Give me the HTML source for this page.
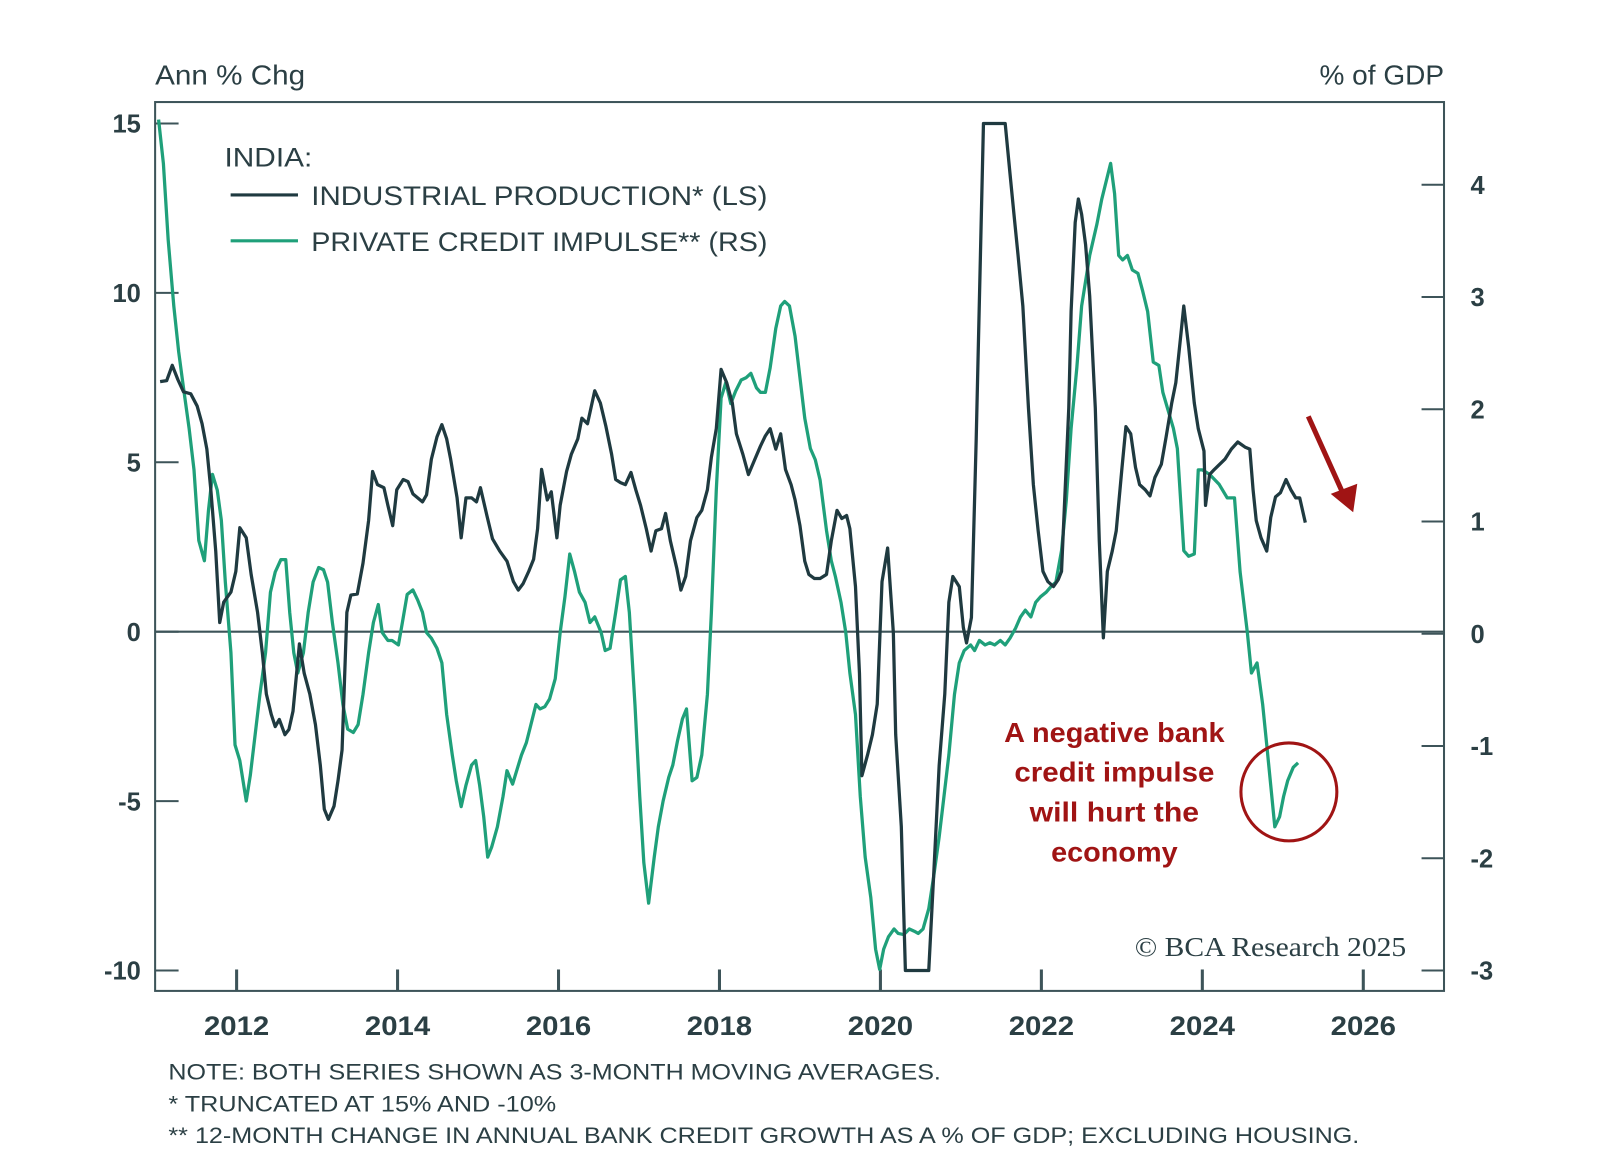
<!DOCTYPE html>
<html><head><meta charset="utf-8"><style>
body{margin:0;background:#fff;width:1600px;height:1163px;overflow:hidden;font-family:"Liberation Sans",sans-serif;}
</style></head><body>
<svg id="chart" width="1600" height="1163" xmlns="http://www.w3.org/2000/svg" font-family="Liberation Sans, sans-serif">
<g transform="scale(1.0205)">
<text x="152" y="83" font-size="27" fill="#2b3f44" textLength="147" lengthAdjust="spacingAndGlyphs">Ann % Chg</text>
<text x="1293" y="83" font-size="27" fill="#2b3f44" textLength="122" lengthAdjust="spacingAndGlyphs">% of GDP</text>
<rect x="152" y="100" width="1263" height="871" fill="none" stroke="#3d5459" stroke-width="2"/>
<g id="axes"></g>
<g id="series"></g>
<g fill="#2b3f44" font-size="26">
<text x="220" y="163" textLength="86" lengthAdjust="spacingAndGlyphs">INDIA:</text>
<line x1="226" y1="191" x2="292" y2="191" stroke="#1f3a40" stroke-width="3"/>
<text x="305" y="201" textLength="447" lengthAdjust="spacingAndGlyphs">INDUSTRIAL PRODUCTION* (LS)</text>
<line x1="226" y1="236" x2="292" y2="236" stroke="#1fa07a" stroke-width="3"/>
<text x="305" y="246" textLength="447" lengthAdjust="spacingAndGlyphs">PRIVATE CREDIT IMPULSE** (RS)</text>
</g>
<g fill="#a01414" font-size="27" font-weight="bold" text-anchor="middle">
<text x="1092" y="727" textLength="216" lengthAdjust="spacingAndGlyphs">A negative bank</text>
<text x="1092" y="766" textLength="196" lengthAdjust="spacingAndGlyphs">credit impulse</text>
<text x="1092" y="805" textLength="166" lengthAdjust="spacingAndGlyphs">will hurt the</text>
<text x="1092" y="844" textLength="124" lengthAdjust="spacingAndGlyphs">economy</text>
</g>
<ellipse cx="1263" cy="776" rx="47" ry="48" fill="none" stroke="#a01414" stroke-width="3"/>
<line x1="1282" y1="408" x2="1318" y2="488" stroke="#a01414" stroke-width="5"/>
<polygon points="1326,502 1304,484 1330,474" fill="#a01414"/>
<text x="1112" y="937" font-family="Liberation Serif, serif" font-size="27" fill="#2b3f44" textLength="266" lengthAdjust="spacingAndGlyphs">© BCA Research 2025</text>
<g fill="#2b3f44" font-size="22">
<text x="165" y="1058" textLength="757" lengthAdjust="spacingAndGlyphs">NOTE: BOTH SERIES SHOWN AS 3-MONTH MOVING AVERAGES.</text>
<text x="165" y="1089" textLength="380" lengthAdjust="spacingAndGlyphs">*  TRUNCATED AT 15% AND -10%</text>
<text x="165" y="1120" textLength="1167" lengthAdjust="spacingAndGlyphs">** 12-MONTH CHANGE IN ANNUAL BANK CREDIT GROWTH AS A % OF GDP; EXCLUDING HOUSING.</text>
</g>
</g>
</svg>
<script>
const xTicks=[2012,2014,2016,2018,2020,2022,2024,2026];
const leftTicks=[15,10,5,0,-5,-10];
const rightTicks=[4,3,2,1,0,-1,-2,-3];
const ipDates=[2011.05,2011.13,2011.20,2011.27,2011.34,2011.43,2011.51,2011.57,2011.63,2011.68,2011.74,2011.79,2011.84,2011.93,2011.99,2012.04,2012.12,2012.18,2012.26,2012.32,2012.37,2012.43,2012.48,2012.53,2012.60,2012.65,2012.70,2012.78,2012.84,2012.91,2012.98,2013.04,2013.09,2013.14,2013.21,2013.26,2013.31,2013.37,2013.42,2013.50,2013.57,2013.64,2013.69,2013.75,2013.83,2013.88,2013.94,2013.99,2014.07,2014.13,2014.19,2014.31,2014.36,2014.42,2014.49,2014.55,2014.61,2014.66,2014.74,2014.79,2014.85,2014.92,2014.98,2015.03,2015.11,2015.18,2015.27,2015.36,2015.44,2015.50,2015.56,2015.63,2015.69,2015.74,2015.79,2015.86,2015.91,2015.98,2016.02,2016.10,2016.16,2016.24,2016.29,2016.36,2016.45,2016.52,2016.59,2016.66,2016.71,2016.77,2016.83,2016.90,2016.96,2017.02,2017.09,2017.15,2017.21,2017.28,2017.33,2017.39,2017.47,2017.52,2017.58,2017.64,2017.72,2017.78,2017.85,2017.90,2017.96,2018.02,2018.09,2018.16,2018.21,2018.29,2018.36,2018.44,2018.51,2018.57,2018.63,2018.70,2018.76,2018.82,2018.89,2018.94,2019.00,2019.06,2019.11,2019.18,2019.25,2019.33,2019.39,2019.46,2019.52,2019.58,2019.62,2019.69,2019.74,2019.77,2019.84,2019.90,2019.96,2020.02,2020.09,2020.16,2020.19,2020.26,2020.31,2020.60,2020.66,2020.73,2020.80,2020.85,2020.90,2020.98,2021.03,2021.07,2021.13,2021.19,2021.28,2021.55,2021.61,2021.66,2021.71,2021.77,2021.84,2021.90,2021.96,2022.02,2022.08,2022.15,2022.21,2022.25,2022.34,2022.37,2022.42,2022.46,2022.50,2022.55,2022.60,2022.67,2022.72,2022.77,2022.82,2022.88,2022.93,2023.00,2023.05,2023.11,2023.17,2023.22,2023.29,2023.35,2023.41,2023.49,2023.55,2023.62,2023.67,2023.73,2023.77,2023.83,2023.90,2023.95,2024.02,2024.04,2024.09,2024.15,2024.28,2024.36,2024.44,2024.53,2024.59,2024.63,2024.67,2024.73,2024.80,2024.85,2024.91,2024.97,2025.04,2025.10,2025.16,2025.21,2025.28];
const ipValues=[7.38,7.41,7.86,7.44,7.08,7.02,6.66,6.14,5.39,4.19,2.38,0.27,0.87,1.17,1.78,3.07,2.77,1.69,0.57,-0.63,-1.84,-2.44,-2.80,-2.59,-3.04,-2.89,-2.35,-0.36,-1.23,-1.84,-2.74,-3.95,-5.24,-5.54,-5.15,-4.40,-3.49,0.57,1.08,1.11,2.02,3.28,4.73,4.34,4.25,3.73,3.13,4.19,4.49,4.43,4.07,3.83,4.04,5.09,5.75,6.11,5.69,5.09,3.95,2.77,3.95,3.95,3.83,4.25,3.43,2.74,2.38,2.08,1.48,1.23,1.42,1.78,2.14,3.04,4.79,3.89,4.13,2.77,3.73,4.73,5.24,5.69,6.30,6.14,7.11,6.75,6.05,5.24,4.49,4.40,4.34,4.70,4.19,3.73,3.04,2.38,2.98,3.04,3.49,2.68,1.87,1.23,1.63,2.68,3.37,3.58,4.19,5.15,5.99,7.74,7.35,6.75,5.84,5.24,4.64,5.09,5.48,5.78,5.99,5.39,5.84,4.79,4.34,3.89,3.13,2.08,1.69,1.57,1.57,1.69,2.68,3.58,3.34,3.43,3.04,1.33,-1.23,-4.25,-3.64,-3.04,-2.14,1.48,2.47,-0.03,-3.04,-5.75,-10,-10,-7.26,-3.95,-1.84,0.87,1.63,1.33,0.12,-0.33,0.42,5.69,15,15,13.52,12.32,11.11,9.61,6.60,4.34,2.98,1.78,1.48,1.33,1.54,1.78,6.60,9.46,12.08,12.77,12.32,11.42,9.91,6.60,2.68,-0.18,1.78,2.38,2.98,4.79,6.05,5.84,4.85,4.34,4.19,4.01,4.55,4.94,5.75,6.75,7.35,8.70,9.61,8.40,6.75,5.99,5.33,3.73,4.64,4.79,5.09,5.39,5.60,5.45,5.39,4.19,3.28,2.77,2.38,3.37,3.98,4.10,4.49,4.19,3.95,3.95,3.22];
const creditDates=[2011.03,2011.09,2011.15,2011.22,2011.28,2011.34,2011.41,2011.47,2011.53,2011.60,2011.65,2011.70,2011.76,2011.81,2011.86,2011.93,2011.98,2012.04,2012.12,2012.17,2012.23,2012.29,2012.36,2012.42,2012.48,2012.55,2012.61,2012.66,2012.71,2012.76,2012.83,2012.89,2012.95,2013.02,2013.08,2013.13,2013.19,2013.26,2013.32,2013.38,2013.45,2013.51,2013.57,2013.64,2013.70,2013.76,2013.81,2013.88,2013.93,2014.01,2014.06,2014.12,2014.19,2014.25,2014.31,2014.36,2014.42,2014.49,2014.55,2014.61,2014.68,2014.73,2014.79,2014.85,2014.92,2014.97,2015.02,2015.07,2015.12,2015.17,2015.24,2015.31,2015.36,2015.43,2015.48,2015.54,2015.60,2015.65,2015.72,2015.77,2015.83,2015.89,2015.96,2016.02,2016.08,2016.14,2016.20,2016.26,2016.33,2016.39,2016.45,2016.53,2016.58,2016.64,2016.71,2016.77,2016.83,2016.88,2016.95,2017.01,2017.06,2017.12,2017.19,2017.24,2017.30,2017.37,2017.42,2017.48,2017.54,2017.59,2017.66,2017.72,2017.78,2017.85,2017.90,2017.96,2018.02,2018.08,2018.14,2018.20,2018.27,2018.33,2018.39,2018.46,2018.51,2018.57,2018.63,2018.70,2018.76,2018.81,2018.87,2018.94,2019.00,2019.06,2019.13,2019.19,2019.25,2019.33,2019.39,2019.44,2019.51,2019.57,2019.62,2019.69,2019.75,2019.81,2019.88,2019.94,2019.99,2020.04,2020.10,2020.17,2020.22,2020.29,2020.36,2020.42,2020.47,2020.53,2020.60,2020.66,2020.73,2020.79,2020.85,2020.92,2020.98,2021.04,2021.12,2021.17,2021.23,2021.30,2021.36,2021.42,2021.49,2021.55,2021.61,2021.68,2021.74,2021.80,2021.87,2021.93,2021.99,2022.06,2022.12,2022.18,2022.25,2022.31,2022.37,2022.44,2022.50,2022.60,2022.69,2022.75,2022.86,2022.91,2022.96,2023.01,2023.07,2023.13,2023.20,2023.26,2023.32,2023.39,2023.46,2023.51,2023.64,2023.69,2023.73,2023.77,2023.83,2023.90,2023.95,2024.00,2024.09,2024.21,2024.31,2024.40,2024.47,2024.56,2024.61,2024.68,2024.75,2024.80,2024.85,2024.90,2024.96,2025.01,2025.06,2025.13,2025.19];
const creditValues=[4.58,4.19,3.51,2.92,2.51,2.19,1.83,1.46,0.83,0.65,1.10,1.42,1.28,1.01,0.46,-0.17,-0.99,-1.13,-1.49,-1.26,-0.90,-0.54,-0.17,0.37,0.55,0.66,0.66,0.19,-0.17,-0.35,-0.17,0.19,0.46,0.59,0.57,0.46,0.10,-0.26,-0.63,-0.85,-0.88,-0.81,-0.54,-0.17,0.10,0.26,0.01,-0.06,-0.06,-0.10,0.10,0.35,0.39,0.30,0.19,0.01,-0.04,-0.13,-0.26,-0.72,-1.08,-1.31,-1.54,-1.35,-1.17,-1.13,-1.35,-1.63,-1.99,-1.90,-1.72,-1.45,-1.22,-1.34,-1.22,-1.08,-0.97,-0.83,-0.63,-0.67,-0.65,-0.58,-0.40,0.01,0.33,0.71,0.55,0.37,0.28,0.10,0.15,0.01,-0.15,-0.13,0.19,0.48,0.51,0.19,-0.63,-1.45,-2.04,-2.40,-1.99,-1.72,-1.49,-1.28,-1.17,-0.95,-0.76,-0.67,-1.31,-1.28,-1.08,-0.54,0.19,1.28,2.10,2.24,2.05,2.16,2.26,2.28,2.32,2.19,2.15,2.15,2.37,2.72,2.92,2.96,2.92,2.65,2.28,1.92,1.65,1.55,1.37,0.92,0.65,0.51,0.28,0.01,-0.35,-0.72,-1.45,-1.99,-2.35,-2.81,-2.99,-2.81,-2.70,-2.63,-2.67,-2.68,-2.63,-2.65,-2.67,-2.63,-2.45,-2.17,-1.81,-1.45,-1.08,-0.54,-0.26,-0.15,-0.10,-0.15,-0.06,-0.10,-0.08,-0.10,-0.06,-0.10,-0.04,0.05,0.15,0.21,0.15,0.28,0.33,0.37,0.42,0.46,0.74,1.19,1.83,2.37,2.92,3.37,3.65,3.87,4.19,3.92,3.37,3.33,3.37,3.24,3.21,3.05,2.87,2.42,2.39,2.15,1.83,1.65,1.19,0.74,0.69,0.71,1.46,1.46,1.42,1.33,1.21,1.21,0.55,0.01,-0.35,-0.26,-0.63,-0.99,-1.35,-1.72,-1.63,-1.45,-1.31,-1.19,-1.15];

const NS='http://www.w3.org/2000/svg';
const xOf=y=>153+(y-2011)*78.86;
const yL=v=>619-v*33.2;
const yR=v=>621-v*110;
const axes=document.getElementById('axes'), series=document.getElementById('series');
function mk(tag,attrs,parent){const e=document.createElementNS(NS,tag);for(const k in attrs)e.setAttribute(k,attrs[k]);parent.appendChild(e);return e;}
const zl=mk('line',{x1:152,x2:1415,y1:yL(0),y2:yL(0),stroke:'#3d5459','stroke-width':2},axes);


leftTicks.forEach(v=>{
  const t=mk('line',{x1:152,x2:175,y1:yL(v),y2:yL(v),stroke:'#3d5459','stroke-width':2},axes);
  
  
  const l=mk('text',{x:138,y:yL(v)+9,'text-anchor':'end','font-size':25,'font-weight':'bold',fill:'#2b3f44'},axes);
  l.textContent=v;
  
  
});
rightTicks.forEach(v=>{
  const t=mk('line',{x1:1393,x2:1415,y1:yR(v),y2:yR(v),stroke:'#3d5459','stroke-width':2},axes);
  
  
  const l=mk('text',{x:1441,y:yR(v)+9,'font-size':25,'font-weight':'bold',fill:'#2b3f44'},axes);
  l.textContent=v;
  
  
});
xTicks.forEach(v=>{
  const t=mk('line',{x1:xOf(v),x2:xOf(v),y1:950,y2:971,stroke:'#3d5459','stroke-width':3},axes);
  
  
  const l=mk('text',{x:xOf(v),y:1014,'text-anchor':'middle','font-size':26,'font-weight':'bold',fill:'#2b3f44',textLength:64,lengthAdjust:'spacingAndGlyphs'},axes);
  l.textContent=v;
  
  
});
const cp=mk('path',{d:creditDates.map((d,i)=>(i?'L':'M')+xOf(d).toFixed(1)+','+yR(creditValues[i]).toFixed(1)).join(''),fill:'none',stroke:'#1fa07a','stroke-width':3.2,'stroke-linejoin':'round'},series);


const ip=mk('path',{d:ipDates.map((d,i)=>(i?'L':'M')+xOf(d).toFixed(1)+','+yL(ipValues[i]).toFixed(1)).join(''),fill:'none',stroke:'#1f3a40','stroke-width':3.2,'stroke-linejoin':'round'},series);


</script>
</body></html>
